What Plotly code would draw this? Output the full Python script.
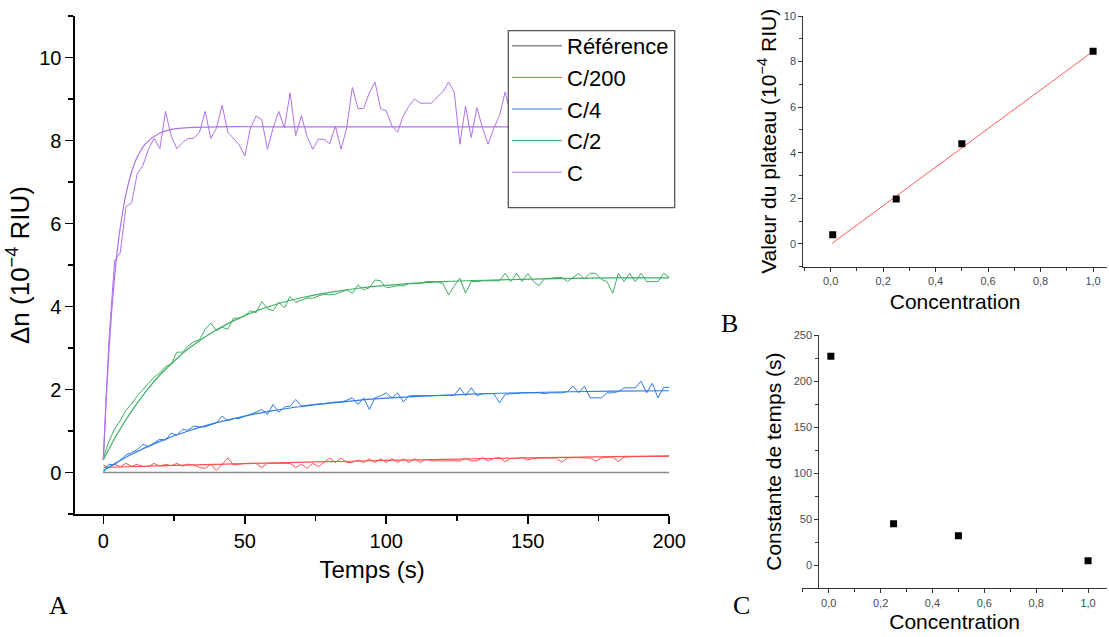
import plotly.graph_objects as go

# ---------------- Panel A data (time in s, Δn in 1e-4 RIU) ----------------
t_data = list(range(0, 201, 2))

ref_t = [0, 200]
ref_y = [0, 0]

c200_y = [0.18, 0.12, 0.2, 0.14, 0.22, 0.15, 0.2, 0.14, 0.15, 0.22,
          0.15, 0.2, 0.16, 0.22, 0.15, 0.2, 0.18, 0.12, 0.1, 0.2,
          0.05, 0.2, 0.35, 0.18, 0.2, 0.22, 0.22, 0.22, 0.12, 0.22,
          0.22, 0.22, 0.22, 0.22, 0.12, 0.2, 0.1, 0.22, 0.14, 0.24,
          0.35, 0.24, 0.35, 0.24, 0.24, 0.3, 0.24, 0.33, 0.24, 0.33,
          0.24, 0.33, 0.24, 0.33, 0.24, 0.33, 0.24, 0.32, 0.28, 0.28,
          0.28, 0.28, 0.28, 0.28, 0.34, 0.28, 0.28, 0.36, 0.28, 0.34,
          0.36, 0.26, 0.34, 0.34, 0.36, 0.3, 0.34, 0.35, 0.35, 0.35,
          0.35, 0.25, 0.35, 0.36, 0.36, 0.36, 0.35, 0.27, 0.35, 0.37,
          0.37, 0.26, 0.37, 0.38, 0.38, 0.38, 0.38, 0.38, 0.38, 0.38,
          0.39]

c4_y = [0.0, 0.2, 0.18, 0.3, 0.42, 0.48, 0.55, 0.68, 0.62, 0.72,
        0.8, 0.78, 0.95, 0.9, 1.04, 1.02, 1.12, 1.1, 1.1, 1.15,
        1.2, 1.36, 1.25, 1.3, 1.3, 1.36, 1.4, 1.45, 1.52, 1.4,
        1.64, 1.45, 1.58, 1.6, 1.76, 1.6, 1.62, 1.64, 1.65, 1.66,
        1.68, 1.7, 1.7, 1.74, 1.8, 1.64, 1.8, 1.52, 1.8, 1.85,
        1.92, 1.8, 1.92, 1.7, 1.85, 1.85, 1.85, 1.85, 1.85, 1.85,
        1.86, 1.86, 1.86, 2.04, 1.85, 2.04, 1.85, 1.9, 1.9, 1.9,
        1.68, 1.88, 1.9, 1.9, 1.92, 1.92, 1.92, 1.92, 1.9, 1.92,
        1.92, 1.92, 1.95, 2.08, 1.92, 2.08, 1.8, 1.8, 1.8, 1.92,
        1.92, 1.95, 2.04, 2.04, 2.04, 2.2, 1.92, 2.15, 1.8, 2.05,
        2.05]

c2_y = [0.35, 0.75, 1.05, 1.25, 1.5, 1.65, 1.85, 2.0, 2.15, 2.3,
        2.4, 2.55, 2.62, 2.9, 2.9, 3.05, 3.15, 3.2, 3.45, 3.6,
        3.42, 3.5, 3.45, 3.72, 3.72, 3.78, 3.9, 3.85, 4.12, 3.95,
        3.9, 4.1, 3.97, 4.24, 4.1, 4.15, 4.2, 4.2, 4.25, 4.3,
        4.28, 4.3, 4.35, 4.4, 4.32, 4.52, 4.4, 4.45, 4.64, 4.62,
        4.45, 4.48, 4.5, 4.5, 4.55, 4.55, 4.55, 4.6, 4.6, 4.6,
        4.55, 4.28, 4.5, 4.68, 4.32, 4.6, 4.6, 4.62, 4.62, 4.62,
        4.62, 4.8, 4.6, 4.8, 4.6, 4.8, 4.6, 4.5, 4.68, 4.68,
        4.7, 4.7, 4.6, 4.7, 4.8, 4.66, 4.8, 4.8, 4.65, 4.6,
        4.32, 4.8, 4.6, 4.8, 4.6, 4.8, 4.6, 4.6, 4.6, 4.8,
        4.7]

c_y = [0.3, 3.2, 5.1, 5.3, 6.4, 6.5, 7.2, 7.4, 7.8, 8.05,
       7.8, 8.7, 8.1, 7.8, 7.95, 8.05, 8.05, 8.2, 8.7, 8.05,
       8.3, 8.85, 8.2, 8.05, 7.9, 7.63, 8.3, 8.59, 8.5, 7.79,
       8.3, 8.7, 8.3, 9.15, 8.12, 8.6, 8.1, 7.79, 8.03, 8.03,
       7.92, 8.35, 7.79, 8.3, 9.28, 8.77, 8.77, 9.15, 9.41, 8.77,
       8.71, 8.35, 8.2, 8.6, 8.83, 9.0, 8.9, 8.9, 8.9, 9.05,
       9.17, 9.41, 9.17, 7.91, 8.83, 8.07, 8.79, 8.3, 7.91, 8.3,
       8.6, 9.17, 8.6, 8.3, 8.9, 8.1, 8.5, 8.8, 8.2, 8.4,
       8.9, 8.3, 8.1, 8.6, 8.4, 8.8, 8.2, 8.5, 8.9, 8.3,
       8.4, 8.7, 8.2, 8.5, 8.8, 8.3, 8.6, 8.4, 8.7, 8.3,
       8.5]

# fitted curves
fit_c_t = [0, 1, 2, 3, 4, 5, 6, 8, 10, 12, 15, 20, 25, 30, 40, 60, 100, 150, 200]
fit_c_y = [0.3, 1.75, 2.95, 3.92, 4.72, 5.38, 5.91, 6.71, 7.24, 7.6, 7.93, 8.18, 8.28, 8.31, 8.33, 8.33, 8.33, 8.33, 8.33]

fit_c2_t = [0, 5, 10, 15, 20, 25, 30, 40, 50, 60, 70, 80, 90, 100, 120, 140, 160, 180, 200]
fit_c2_y = [0.3, 0.94, 1.48, 1.95, 2.35, 2.68, 2.98, 3.44, 3.78, 4.03, 4.21, 4.34, 4.44, 4.51, 4.6, 4.64, 4.67, 4.69, 4.69]

fit_c4_t = [0, 10, 20, 30, 40, 50, 60, 70, 80, 90, 100, 120, 140, 160, 180, 200]
fit_c4_y = [0.05, 0.44, 0.75, 1.0, 1.2, 1.36, 1.49, 1.59, 1.67, 1.74, 1.79, 1.86, 1.91, 1.94, 1.96, 1.97]

fit_c200_t = [0, 25, 50, 75, 100, 125, 150, 175, 200]
fit_c200_y = [0.12, 0.17, 0.215, 0.254, 0.29, 0.323, 0.351, 0.377, 0.4]

# ---------------- Panel B / C data ----------------
conc = [0.008, 0.25, 0.5, 1.0]
plateau = [0.4, 1.97, 4.4, 8.45]
fit_b_x = [0.006, 1.0]
fit_b_y = [0.03, 8.45]
tau = [227, 45, 32, 5]

col_ref = "#8c8c8c"
col_red = "#ff5050"
col_blue = "#2f7de0"
col_green = "#3dae62"
col_purple = "#ad72ea"

FONT = "Arial, Liberation Sans, sans-serif"
SERIF = "Times New Roman, Liberation Serif, serif"

fig = go.Figure()

# reference + data series (legend)
fig.add_trace(go.Scatter(x=ref_t, y=ref_y, mode="lines", name="Référence",
                         legendrank=1, legendgroup="g1",
                         line=dict(color=col_ref, width=1.4), xaxis="x", yaxis="y"))
series = [("C/200", c200_y, col_red), ("C/4", c4_y, col_blue),
          ("C/2", c2_y, col_green), ("C", c_y, col_purple)]
for i, (name, ys, col) in enumerate(series):
    fig.add_trace(go.Scatter(x=t_data, y=ys, mode="lines", name=name,
                             legendrank=i + 2, legendgroup="g%d" % (i + 2),
                             line=dict(color=col, width=1), xaxis="x", yaxis="y"))

fits = [(fit_c200_t, fit_c200_y, col_red), (fit_c4_t, fit_c4_y, col_blue),
        (fit_c2_t, fit_c2_y, col_green), (fit_c_t, fit_c_y, col_purple)]
for ft, fy, col in fits:
    fig.add_trace(go.Scatter(x=ft, y=fy, mode="lines", showlegend=False,
                             line=dict(color=col, width=1.2, shape="spline"),
                             xaxis="x", yaxis="y"))

# panel B
fig.add_trace(go.Scatter(x=fit_b_x, y=fit_b_y, mode="lines", showlegend=False,
                         line=dict(color="#ff5a5a", width=1), xaxis="x2", yaxis="y2"))
fig.add_trace(go.Scatter(x=conc, y=plateau, mode="markers", showlegend=False,
                         marker=dict(symbol="square", size=7, color="black"),
                         xaxis="x2", yaxis="y2"))
# panel C
fig.add_trace(go.Scatter(x=conc, y=tau, mode="markers", showlegend=False,
                         marker=dict(symbol="square", size=7, color="black"),
                         xaxis="x3", yaxis="y3"))

W, H = 1109, 637

def px(x):
    return x / W

def py(y):
    return 1 - y / H

main_axis = dict(showline=True, linecolor="black", linewidth=1.6, ticks="outside",
                 ticklen=8, tickwidth=1.6, tickcolor="black", showgrid=False,
                 zeroline=False, automargin=False,
                 tickfont=dict(family=FONT, size=20, color="black"))
small_axis = dict(showline=True, linecolor="#333", linewidth=1, ticks="outside",
                  ticklen=4, tickwidth=1, tickcolor="#333", showgrid=False,
                  zeroline=False, automargin=False,
                  tickfont=dict(family=FONT, size=11, color="#444a55"))

fig.update_layout(
    width=W, height=H, autosize=False,
    margin=dict(l=0, r=0, t=0, b=0, pad=0),
    paper_bgcolor="white", plot_bgcolor="white",
    separators=", ",
    hovermode=False,
    font=dict(family=FONT, color="black"),
    xaxis=dict(**main_axis, domain=[px(75), px(669.3)], range=[-10, 200], dtick=50,
               anchor="y",
               minor=dict(ticks="outside", ticklen=5, tickwidth=1.4, dtick=25, tickcolor="black"),
               title=dict(text="Temps (s)", font=dict(family=FONT, size=24), standoff=10)),
    yaxis=dict(**main_axis, domain=[py(514), py(16)], range=[-1, 11], dtick=2, tick0=0,
               anchor="x",
               minor=dict(ticks="outside", ticklen=5, tickwidth=1.4, dtick=1, tickcolor="black"),
               title=dict(text="Δn (10<sup>−4</sup> RIU)", font=dict(family=FONT, size=26), standoff=2)),
    xaxis2=dict(**small_axis, domain=[px(803.3), px(1107)], range=[-0.104, 1.053], dtick=0.2,
                tick0=0, tickformat=".1f", anchor="y2",
                minor=dict(ticks="outside", ticklen=3, dtick=0.1, tickcolor="#333"),
                title=dict(text="Concentration", font=dict(family=FONT, size=21), standoff=8)),
    yaxis2=dict(**small_axis, domain=[py(266.7), py(16)], range=[-1, 10], dtick=2, tick0=0,
                anchor="x2",
                minor=dict(ticks="outside", ticklen=3, dtick=1, tickcolor="#333"),
                title=dict(text="Valeur du plateau (10<sup>−4</sup> RIU)", font=dict(family=FONT, size=21), standoff=1)),
    xaxis3=dict(**small_axis, domain=[px(802.3), px(1107)], range=[-0.102, 1.073], dtick=0.2,
                tick0=0, tickformat=".1f", anchor="y3",
                minor=dict(ticks="outside", ticklen=3, dtick=0.1, tickcolor="#333"),
                title=dict(text="Concentration", font=dict(family=FONT, size=21), standoff=6)),
    yaxis3=dict(**small_axis, domain=[py(588.3), py(335)], range=[-25, 250], dtick=50, tick0=0,
                anchor="free", position=px(818.3),
                minor=dict(ticks="outside", ticklen=3, dtick=25, tickcolor="#333"),
                title=dict(text="Constante de temps (s)", font=dict(family=FONT, size=21), standoff=5)),
    legend=dict(x=px(507), y=py(25), xanchor="left", yanchor="top",
                bgcolor="rgba(0,0,0,0)", borderwidth=0, traceorder="normal",
                font=dict(family=FONT, size=22, color="black"),
                itemwidth=50, tracegroupgap=0, itemclick=False, itemdoubleclick=False),
    shapes=[dict(type="rect", xref="paper", yref="paper",
                 x0=px(508.3), x1=px(674.7), y0=py(207.7), y1=py(30.7),
                 fillcolor="white", line=dict(color="#555", width=1.3), layer="above")],
    annotations=[
        dict(text="A", x=px(58), y=py(605), xref="paper", yref="paper", showarrow=False,
             xanchor="center", yanchor="middle",
             font=dict(family=SERIF, size=26, color="black")),
        dict(text="B", x=px(729), y=py(323), xref="paper", yref="paper", showarrow=False,
             xanchor="center", yanchor="middle",
             font=dict(family=SERIF, size=26, color="black")),
        dict(text="C", x=px(741), y=py(605), xref="paper", yref="paper", showarrow=False,
             xanchor="center", yanchor="middle",
             font=dict(family=SERIF, size=26, color="black")),
    ],
)

fig.write_html("out.html",
               config={"displayModeBar": False, "responsive": False, "staticPlot": True},
               post_script="document.body.style.margin='0px';")
